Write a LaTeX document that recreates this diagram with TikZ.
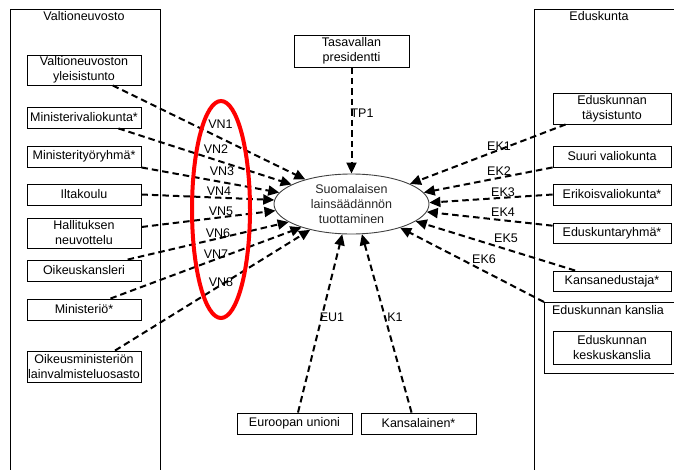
\documentclass[tikz,border=0pt]{standalone}
\usepackage{fontspec}
\setmainfont{Liberation Sans}
\usetikzlibrary{arrows.meta,shapes.geometric,calc}
\begin{document}
\begin{tikzpicture}[x=1pt,y=-1pt,
  box/.style={draw, line width=0.9pt, inner sep=0pt, align=center, font=\fontsize{12.5}{15}\selectfont},
  grp/.style={draw, line width=0.9pt, inner sep=0pt, anchor=north west},
  lbl/.style={inner sep=0pt, font=\fontsize{12.5}{14}\selectfont},
  conn/.style={line width=2pt, dash pattern=on 6.5pt off 4pt, -{Triangle[length=11pt,width=10pt]}},
]
\useasboundingbox (0,0) rectangle (674,469);
\clip (0,0) rectangle (674,469);

% group frames
\node[grp, minimum width=150pt, minimum height=480pt] (vn) at (10,9) {};
\node[lbl] (vnt) at (84,16) {Valtioneuvosto};
\node[grp, minimum width=170pt, minimum height=480pt] (ed) at (534,9) {};
\node[lbl] (edt) at (599,16) {Eduskunta};
\node[grp, minimum width=150pt, minimum height=71pt, fill=white] (kn) at (544,302) {};
\node[lbl] (knt) at (608,310) {Eduskunnan kanslia};

% left boxes
\node[box, minimum width=114pt, minimum height=30pt] (vy) at (84,70) {Valtioneuvoston\\yleisistunto};
\node[box, minimum width=114pt, minimum height=21pt] (mv) at (84,117.5) {Ministerivaliokunta*};
\node[box, minimum width=114pt, minimum height=21pt] (mt) at (84,156.5) {Ministerityöryhmä*};
\node[box, minimum width=114pt, minimum height=21pt] (il) at (84,194.5) {Iltakoulu};
\node[box, minimum width=114pt, minimum height=30pt] (hn) at (84,233) {Hallituksen\\neuvottelu};
\node[box, minimum width=114pt, minimum height=21pt] (ok) at (84,270.5) {Oikeuskansleri};
\node[box, minimum width=114pt, minimum height=21pt] (mi) at (84,309.5) {Ministeriö*};
\node[box, minimum width=114pt, minimum height=31pt] (om) at (84,366.5) {Oikeusministeriön\\lainvalmisteluosasto};

% top / bottom boxes
\node[box, minimum width=115pt, minimum height=32pt] (tp) at (351.5,51) {Tasavallan\\presidentti};
\node[box, minimum width=115pt, minimum height=21pt] (eu) at (294.5,423.5) {Euroopan unioni};
\node[box, minimum width=115pt, minimum height=21pt] (ka) at (418.5,423.5) {Kansalainen*};

% right boxes
\node[box, minimum width=118pt, minimum height=31pt] (et) at (612,108.5) {Eduskunnan\\täysistunto};
\node[box, minimum width=118pt, minimum height=21pt] (sv) at (612,156.5) {Suuri valiokunta};
\node[box, minimum width=118pt, minimum height=21pt] (ev) at (612,194.5) {Erikoisvaliokunta*};
\node[box, minimum width=118pt, minimum height=20pt] (er) at (612,233) {Eduskuntaryhmä*};
\node[box, minimum width=118pt, minimum height=20pt] (ke) at (612,281) {Kansanedustaja*};
\node[box, minimum width=118pt, minimum height=33pt] (kk) at (612,347.5) {Eduskunnan\\keskuskanslia};

% central ellipse
\node[ellipse, draw=black!75, line width=0.9pt, inner sep=0pt, minimum width=155pt, minimum height=60pt,
      align=center, font=\fontsize{12.5}{15}\selectfont, text=black!85] (e) at (351.5,204)
      {Suomalaisen\\lainsäädännön\\tuottaminen};

% connectors
\draw[conn] ($(vy.south west)!0.75!(vy.south east)$) -- (e.152.7);
\draw[conn] ($(mv.south west)!0.8!(mv.south east)$) -- (e.162.8);
\draw[conn] (mt.south east) -- (e.171.4);
\draw[conn] (il.east) -- (e.177);
\draw[conn] ($(hn.east)+(0,-6)$) -- (e.185.3);
\draw[conn] ($(ok.north west)!0.88!(ok.north east)$) -- (e.196);
\draw[conn] ($(mi.north west)!0.73!(mi.north east)$) -- (e.205);
\draw[conn] ($(om.north west)!0.77!(om.north east)$) -- (e.212);

\draw[conn] (tp.south) -- (e.north);

\draw[conn] ($(et.south west)!0.11!(et.south east)$) -- (e.19.7);
\draw[conn] (sv.south west) -- (e.9.7);
\draw[conn] (ev.west) -- (e.1.5);
\draw[conn] ($(er.north west)!0.15!(er.south west)$) -- (e.-6);
\draw[conn] ($(ke.north west)!0.19!(ke.north east)$) -- (e.-15.8);
\draw[conn] (kn.north west) -- (e.-26.3);

\draw[conn] ($(eu.north west)!0.53!(eu.north east)$) -- (e.253);
\draw[conn] ($(ka.north west)!0.44!(ka.north east)$) -- (e.289);

% highlight
\node[ellipse, draw=red, line width=4pt, inner sep=0pt, minimum width=58pt, minimum height=217pt] (hl) at (221,209.5) {};

% labels
\node[lbl] (l1) at (220.5,124) {VN1};
\node[lbl] (l2) at (216,149) {VN2};
\node[lbl] (l3) at (222,171) {VN3};
\node[lbl] (l4) at (219,191) {VN4};
\node[lbl] (l5) at (221,211) {VN5};
\node[lbl] (l6) at (218,233) {VN6};
\node[lbl] (l7) at (216,254) {VN7};
\node[lbl] (l8) at (221,282) {VN8};
\node[lbl] (ltp) at (362,113) {TP1};
\node[lbl] (k1) at (499,146) {EK1};
\node[lbl] (k2) at (499,171) {EK2};
\node[lbl] (k3) at (503,192) {EK3};
\node[lbl] (k4) at (503,212) {EK4};
\node[lbl] (k5) at (506,238) {EK5};
\node[lbl] (k6) at (484,259) {EK6};
\node[lbl] (leu) at (332,317) {EU1};
\node[lbl] (lk) at (395,317) {K1};
\end{tikzpicture}
\end{document}
